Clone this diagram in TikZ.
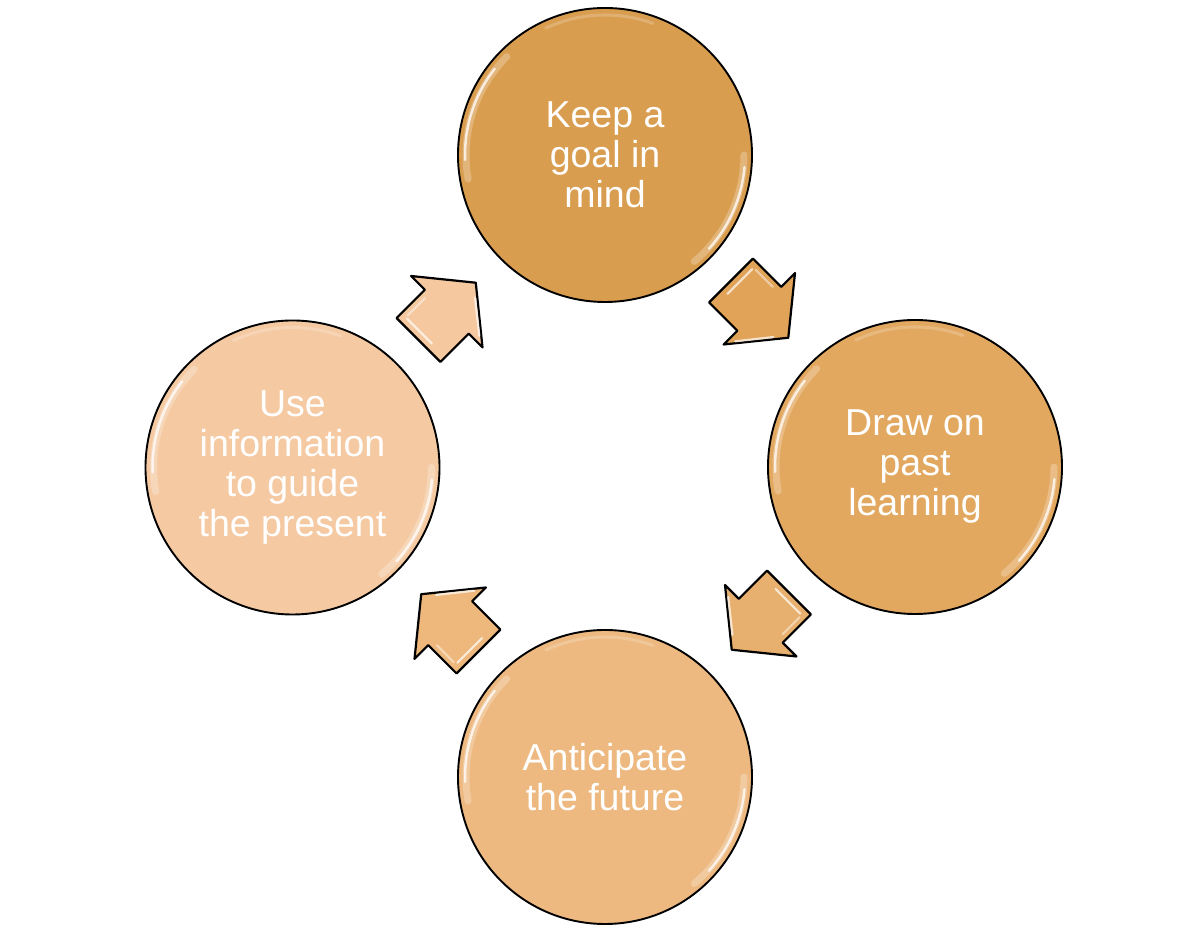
\documentclass[tikz,border=0pt]{standalone}
\usepackage{fontspec}
\setmainfont{Liberation Sans}
\definecolor{ctopc}{RGB}{217,157,80}
\definecolor{crightc}{RGB}{227,168,96}
\definecolor{cbottomc}{RGB}{237,185,128}
\definecolor{cleftc}{RGB}{245,202,163}
\definecolor{atl}{RGB}{245,200,160}
\definecolor{atr}{RGB}{224,163,88}
\definecolor{abr}{RGB}{232,176,110}
\definecolor{abl}{RGB}{238,184,124}
\begin{document}
\begin{tikzpicture}[x=1pt,y=1pt,line join=round]
\tikzset{
  bubble/.style={circle, draw=black, line width=1.9pt, minimum size=294pt, inner sep=0pt,
    font=\fontsize{37.5}{40}\selectfont, text=white, align=center},
  glosswide/.style={white, line width=7pt, opacity=.25, line cap=round},
  glossthin/.style={white, line width=2.5pt, opacity=.75, line cap=round},
  arrowline/.style={draw=black, line width=2.2pt},
  arrowgloss/.style={white, line width=2.2pt, opacity=.7, line cap=round},
  pics/blockarrow/.style={code={
    \draw[arrowline, fill=#1] (0,-31) -- (40,-31) -- (40,-50.5) -- (81,0) -- (40,50.5) -- (40,31) -- (0,31) -- cycle;
    \draw[arrowgloss] (7,-12) -- (7,23);
    \draw[arrowgloss] (46,-40) -- (70,-10);
    \draw[arrowgloss, opacity=.45] (10,25) -- (34,25);
  }}
}
\useasboundingbox (0,0) rectangle (1200,941);
\fill[white] (0,0) rectangle (1200,941);

% circles
\node[bubble, fill=ctopc]    (ctop)    at (605,786)   {Keep a\\goal in\\mind};
\node[bubble, fill=crightc]  (cright)  at (915,474)   {Draw on\\past\\learning};
\node[bubble, fill=cbottomc] (cbottom) at (605,164)   {Anticipate\\the future};
\node[bubble, fill=cleftc]   (cleft)   at (292.5,473.5) {Use\\information\\to guide\\the present};

% glossy highlights
\foreach \c in {ctop,cright,cbottom,cleft}{
  \draw[glosswide] ([shift={(135:139)}]\c.center) arc[start angle=135, end angle=190, radius=139];
  \draw[glossthin] ([shift={(142:140)}]\c.center) arc[start angle=142, end angle=182, radius=140];
  \draw[glosswide] ([shift={(0:139)}]\c.center) arc[start angle=0, end angle=-50, radius=139];
  \draw[glossthin] ([shift={(-5:140)}]\c.center) arc[start angle=-5, end angle=-42, radius=140];
  \draw[white, line width=3pt, opacity=.2, line cap=round] ([shift={(70:140)}]\c.center) arc[start angle=70, end angle=115, radius=140];
}

% block arrows
\pic[rotate=45]   (atl) at (418.5,601)  {blockarrow=atl};
\pic[rotate=-45]  (atr) at (731,660.5)  {blockarrow=atr};
\pic[rotate=-135] (abr) at (789,348.5)  {blockarrow=abr};
\pic[rotate=135]  (abl) at (478.5,289.5) {blockarrow=abl};
\end{tikzpicture}
\end{document}
